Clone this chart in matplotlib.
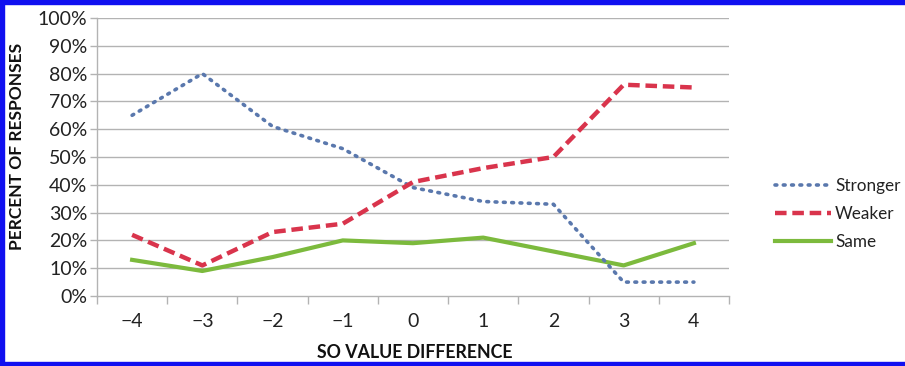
import matplotlib
matplotlib.use("Agg")
import matplotlib.pyplot as plt
from matplotlib.patches import Rectangle
from matplotlib.lines import Line2D

categories = [-4, -3, -2, -1, 0, 1, 2, 3, 4]
cat_labels = ["\u22124", "\u22123", "\u22122", "\u22121", "0", "1", "2", "3", "4"]
stronger = [65, 80, 61, 53, 39, 34, 33, 5, 5]
weaker = [22, 11, 23, 26, 41, 46, 50, 76, 75]
same = [13, 9, 14, 20, 19, 21, 16, 11, 19]
y_ticks = [0, 10, 20, 30, 40, 50, 60, 70, 80, 90, 100]
y_labels = [f"{v}%" for v in y_ticks]

plt.rcParams['font.family'] = ['Lato', 'DejaVu Sans']

W, H = 905, 366
fig = plt.figure(figsize=(W / 100, H / 100), dpi=100)
ax = fig.add_axes([97 / W, 1 - 296 / H, (729 - 97) / W, (296 - 18) / H])

grid_c = "#b3b3b3"
for v in y_ticks[1:]:
    ax.axhline(v, color=grid_c, lw=1.0, zorder=1)

c_str = "#5a78ad"
c_weak = "#d9344c"
c_same = "#7cba3d"
ls_str = (0, (0.5, 1.8))
ls_weak = (0, (2.6, 1.3))
ax.plot(categories, stronger, color=c_str, lw=2.6, linestyle=ls_str,
        dash_capstyle='round', zorder=3, label="Stronger")
ax.plot(categories, weaker, color=c_weak, lw=3.2, linestyle=ls_weak,
        zorder=3, label="Weaker")
ax.plot(categories, same, color=c_same, lw=3.0, zorder=2, label="Same")

ax.set_xlim(-4.5, 4.5)
ax.set_ylim(0, 100)
ax.set_yticks(y_ticks)
ax.set_yticklabels(y_labels, fontsize=14, color="#222222")
ax.tick_params(axis='y', length=5, color=grid_c, width=1, pad=2)

bounds = [c - 0.5 for c in categories] + [4.5]
ax.set_xticks(bounds)
ax.set_xticklabels([""] * len(bounds))
ax.tick_params(axis='x', which='major', length=6, color=grid_c, width=1)
ax.set_xticks(categories, minor=True)
ax.set_xticklabels(cat_labels, minor=True, fontsize=14, color="#222222")
ax.tick_params(axis='x', which='minor', length=0, pad=12)

for s in ["top", "right"]:
    ax.spines[s].set_visible(False)
for s in ["left", "bottom"]:
    ax.spines[s].set_color(grid_c)
    ax.spines[s].set_linewidth(1.0)

fig.text(17 / W, 1 - 146 / H, "PERCENT OF RESPONSES", rotation=90, ha='center',
         va='center', fontsize=12.5, fontweight='bold', color="#111111")
fig.text(415 / W, 1 - 352 / H, "SO VALUE DIFFERENCE", ha='center', va='center',
         fontsize=12.8, fontweight='bold', color="#111111")

leg = fig.legend(handles=[
    Line2D([], [], color=c_str, lw=2.6, linestyle=ls_str, dash_capstyle='round'),
    Line2D([], [], color=c_weak, lw=3.2, linestyle=ls_weak),
    Line2D([], [], color=c_same, lw=3.0)],
    labels=["Stronger", "Weaker", "Same"], loc='center left',
    bbox_to_anchor=(766 / W, 1 - 214 / H), frameon=False, fontsize=12.3,
    handlelength=3.3, handletextpad=0.25, labelspacing=0.7, borderpad=0)
for t in leg.get_texts():
    t.set_color("#222222")

bc = "#1010f0"
fig.patches.append(Rectangle((0, 0), 4 / W, 1, transform=fig.transFigure, color=bc, zorder=10))
fig.patches.append(Rectangle((0, 1 - 4 / H), 1, 4 / H, transform=fig.transFigure, color=bc, zorder=10))
fig.patches.append(Rectangle((0, 0), 1, 4 / H, transform=fig.transFigure, color=bc, zorder=10))

fig.savefig("out.png", dpi=100)
